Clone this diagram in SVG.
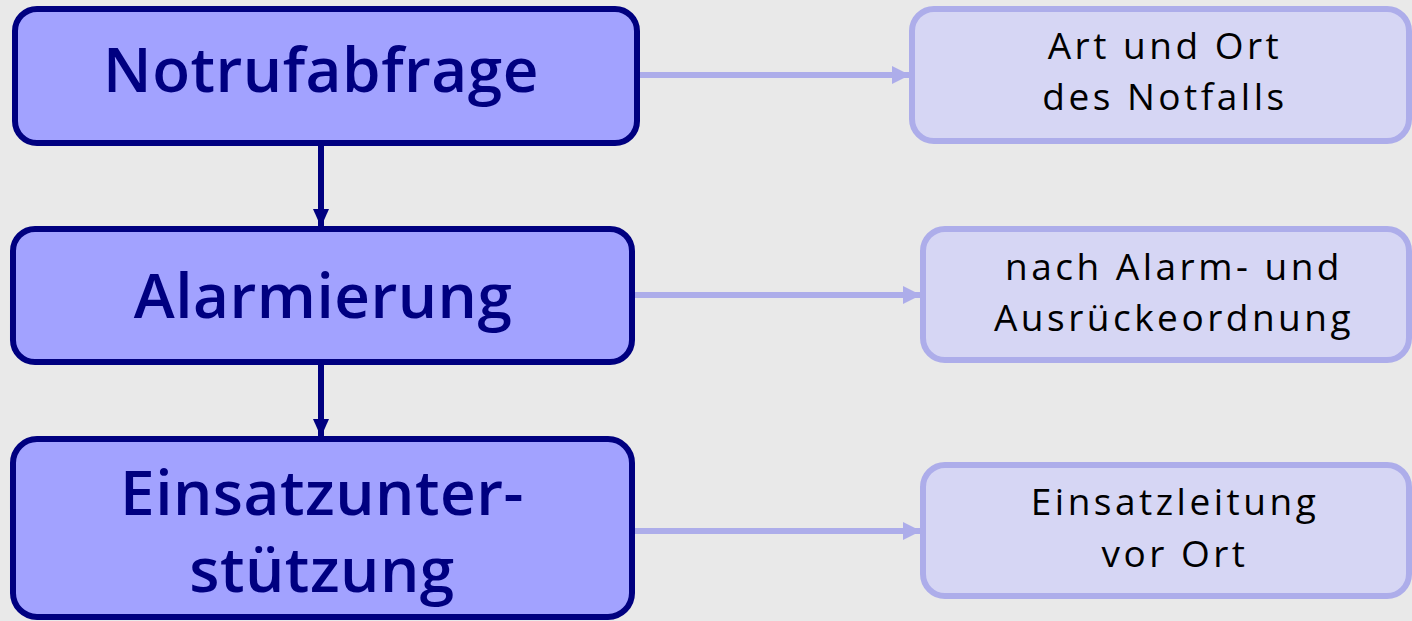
<svg xmlns="http://www.w3.org/2000/svg" width="1412" height="621" viewBox="0 0 1412 621">
<style>
.main rect{fill:#a2a2ff;stroke:#000080;stroke-width:6}
.main text{font-family:"Open Sans","Noto Sans",sans-serif;font-size:62px;font-weight:600;fill:#000080;text-anchor:middle;letter-spacing:0.5px}
.side rect{fill:#d6d6f4;stroke:#adadea;stroke-width:6}
.side text{font-family:"Open Sans","Noto Sans",sans-serif;font-size:37px;fill:#000000;text-anchor:middle;letter-spacing:3.5px}
.flow{stroke:#000080;stroke-width:6;fill:none}
.info{stroke:#adadea;stroke-width:6;fill:none}
</style>
<defs>
<marker id="hd" markerUnits="userSpaceOnUse" markerWidth="18" markerHeight="16" refX="18" refY="8" orient="auto">
<path d="M0,0 L18,8 L0,16 Z" fill="#000080"/>
</marker>
<marker id="hl" markerUnits="userSpaceOnUse" markerWidth="18" markerHeight="18" refX="18" refY="9" orient="auto">
<path d="M0,0 L18,9 L0,18 Z" fill="#adadea"/>
</marker>
</defs>
<rect width="1412" height="621" fill="#e9e9e9"/>
<g id="connectors">
<line class="flow" x1="321" y1="143" x2="321" y2="227" marker-end="url(#hd)"/>
<line class="flow" x1="321" y1="362" x2="321" y2="437" marker-end="url(#hd)"/>
<line class="info" x1="640" y1="75" x2="910" y2="75" marker-end="url(#hl)"/>
<line class="info" x1="635" y1="295" x2="921" y2="295" marker-end="url(#hl)"/>
<line class="info" x1="635" y1="531" x2="921" y2="531" marker-end="url(#hl)"/>
</g>
<g id="notrufabfrage" class="main">
<rect x="15" y="9" width="622" height="134" rx="22"/>
<text x="321" y="92">Notrufabfrage</text>
</g>
<g id="alarmierung" class="main">
<rect x="13" y="229" width="619" height="133" rx="22"/>
<text x="323" y="318">Alarmierung</text>
</g>
<g id="einsatzunterstuetzung" class="main">
<rect x="13" y="439" width="619" height="178" rx="24"/>
<text x="322" y="515">Einsatzunter-<tspan x="322" y="592">stützung</tspan></text>
</g>
<g id="art-ort" class="side">
<rect x="912" y="9" width="497" height="132" rx="22"/>
<text x="1165" y="59">Art und Ort<tspan x="1165" y="110">des Notfalls</tspan></text>
</g>
<g id="alarmordnung" class="side">
<rect x="923" y="229" width="486" height="131" rx="22"/>
<text x="1174" y="280">nach Alarm- und<tspan x="1174" y="331">Ausrückeordnung</tspan></text>
</g>
<g id="einsatzleitung" class="side">
<rect x="923" y="465" width="486" height="131" rx="22"/>
<text x="1175" y="515">Einsatzleitung<tspan x="1175" y="567">vor Ort</tspan></text>
</g>
</svg>
